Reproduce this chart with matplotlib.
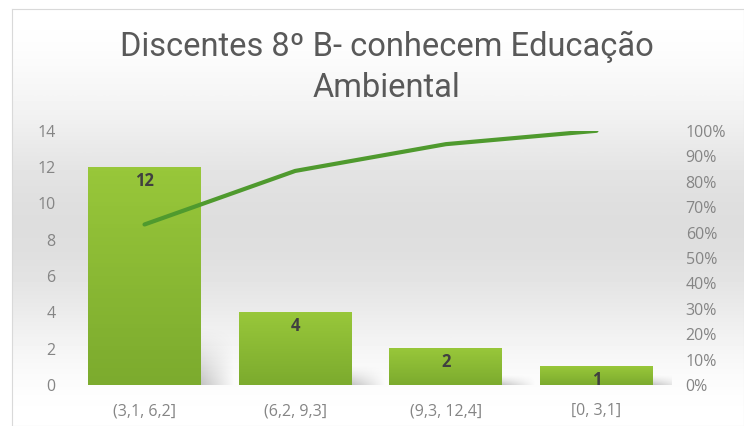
import numpy as np
import matplotlib
matplotlib.use("Agg")
import matplotlib.pyplot as plt
from matplotlib.colors import LinearSegmentedColormap
import matplotlib.ticker as ticker

# data
categories = ["(3,1, 6,2]", "(6,2, 9,3]", "(9,3, 12,4]", "[0, 3,1]"]
counts = [12, 4, 2, 1]
cumulative_pct = np.cumsum(counts) / np.sum(counts) * 100
title_lines = ["Discentes 8º B- conhecem Educação", "Ambiental"]

plt.rcParams['font.family'] = ['Open Sans', 'DejaVu Sans']

fig = plt.figure(figsize=(7.44, 4.26), dpi=100)

# chart background: soft vertical gradient
bg = fig.add_axes([0.016, 0.0, 0.984, 0.98], zorder=-10)
grad = np.array([1.0, 0.975, 0.94, 0.89, 0.865, 0.875, 0.92, 0.97, 1.0]).reshape(-1, 1)
bg.imshow(grad, aspect='auto', cmap='gray', vmin=0, vmax=1, extent=[0, 1, 0, 1],
          interpolation='bicubic')
bg.set_xlim(0, 1)
bg.set_ylim(0, 1)
bg.set_xticks([])
bg.set_yticks([])
for s in bg.spines.values():
    s.set_color('#d9d9d9')

title_font = ['Roboto', 'DejaVu Sans']
fig.text(0.52, 1 - 47 / 426, title_lines[0], ha='center', va='center', fontsize=23.5,
         color='#595959', family=title_font)
fig.text(0.52, 1 - 88 / 426, title_lines[1], ha='center', va='center', fontsize=23.5,
         color='#595959', family=title_font)

ax = fig.add_axes([0.093, 0.096, 0.81, 0.597])
ax.patch.set_alpha(0)
x = np.arange(len(categories))
width = 0.75

bar_cmap = LinearSegmentedColormap.from_list('g', ['#7cab2e', '#98c73a'])
shadow = np.zeros((40, 40, 4))
fade_y = np.linspace(1, 0, 40).reshape(-1, 1) ** 1.5
fade_x = np.linspace(1, 0, 40).reshape(1, -1)
shadow[..., 3] = 0.22 * fade_y * fade_x
bars = ax.bar(x, counts, width=width, color='none')
for b, v in zip(bars, counts):
    x0 = b.get_x()
    # soft shadow to the right of each bar
    ax.imshow(shadow, aspect='auto', origin='lower', interpolation='bilinear',
              extent=[x0 + width, x0 + width + 0.22, 0, max(v * 0.28, 0.6)], zorder=1)
    gimg = np.linspace(0, 1, 50).reshape(-1, 1)
    ax.imshow(gimg, aspect='auto', cmap=bar_cmap, origin='lower',
              extent=[x0, x0 + width, 0, v], zorder=2)
    ax.text(b.get_x() + width / 2, v - 0.25, str(v), ha='center', va='top',
            fontsize=12, fontweight='bold', color='#404040', zorder=4)

ax.set_xlim(-0.5, len(categories) - 0.5)
ax.set_ylim(0, 14)
ax.set_yticks(range(0, 15, 2))
ax.set_xticks(x)
ax.set_xticklabels(categories)
ax.tick_params(length=0, labelsize=11.5, labelcolor='#858585')
ax.tick_params(axis='x', pad=13)
ax.tick_params(axis='y', pad=10)
for s in ax.spines.values():
    s.set_visible(False)

ax2 = ax.twinx()
ax2.plot(x, cumulative_pct, color='#4f9a2e', lw=3, solid_capstyle='round', zorder=5)
ax2.set_ylim(0, 100)
ax2.set_yticks(range(0, 101, 10))
ax2.yaxis.set_major_formatter(ticker.FuncFormatter(lambda v, _: f"{int(v)}%"))
ax2.tick_params(length=0, labelsize=11.5, labelcolor='#858585', pad=10)
for s in ax2.spines.values():
    s.set_visible(False)

fig.savefig("out.png", dpi=100)
